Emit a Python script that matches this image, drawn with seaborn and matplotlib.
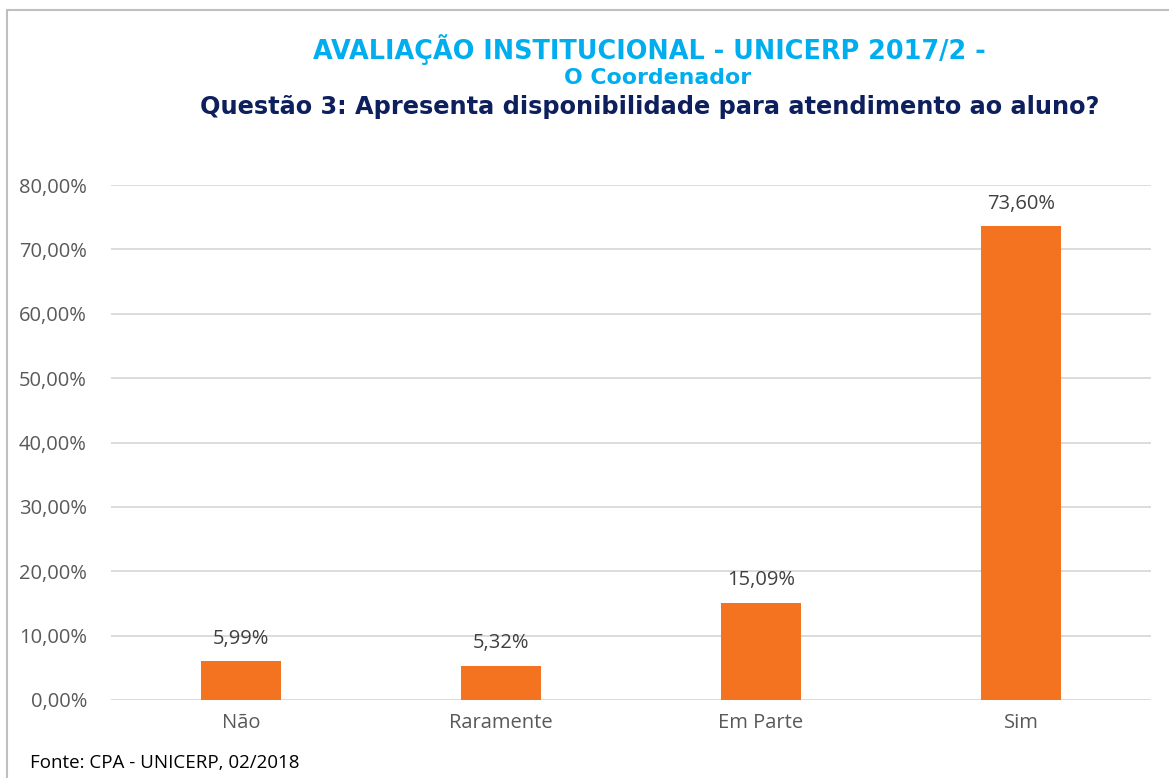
import matplotlib
matplotlib.use("Agg")
import matplotlib.pyplot as plt
import seaborn as sns
import pandas as pd
from matplotlib.lines import Line2D

categories = ["Não", "Raramente", "Em Parte", "Sim"]
values = [5.99, 5.32, 15.09, 73.60]
yticks = [0, 10, 20, 30, 40, 50, 60, 70, 80]

df = pd.DataFrame({"cat": categories, "val": values})

sns.set_theme(style="white")
plt.rcParams['font.family'] = ['Open Sans', 'DejaVu Sans']

fig = plt.figure(figsize=(11.69, 7.78), dpi=100)
ax = fig.add_axes([111/1169, 78/778, 1040/1169, 515/778])

sns.barplot(data=df, x="cat", y="val", color="#F37321", width=0.31,
            saturation=1, ax=ax, zorder=3)
for p in ax.patches:
    p.set_edgecolor("none")

ax.set_ylim(0, 80)
ax.set_xlim(-0.5, 3.5)
ax.set_yticks(yticks)
ax.set_yticklabels([f"{v:.2f}%".replace(".", ",") for v in yticks])
ax.yaxis.grid(True, color="#D9D9D9", linewidth=1.3, zorder=0)
ax.set_axisbelow(True)
for s in ax.spines.values():
    s.set_visible(False)
ax.tick_params(axis="both", length=0, labelsize=14.5, labelcolor="#595959")
ax.tick_params(axis="y", pad=17.3)
ax.tick_params(axis="x", pad=9)
ax.set_xlabel("")
ax.set_ylabel("")

for i, v in enumerate(values):
    ax.annotate(f"{v:.2f}%".replace(".", ","), (i, v), xytext=(0, 9),
                textcoords="offset points", ha="center", va="bottom",
                fontsize=14.5, color="#404040")

title_font = ["DejaVu Sans"]
fig.text(649/1169, 1 - 50/778, "AVALIAÇÃO INSTITUCIONAL - UNICERP 2017/2 -",
         ha="center", va="center", fontsize=18.4, fontweight="bold",
         color="#00AEEF", family=title_font)
fig.text(658/1169, 1 - 78/778, "O Coordenador",
         ha="center", va="center", fontsize=15.8, fontweight="bold",
         color="#00AEEF", family=title_font)
fig.text(650/1169, 1 - 107/778, "Questão 3: Apresenta disponibilidade para atendimento ao aluno?",
         ha="center", va="center", fontsize=17.3, fontweight="bold",
         color="#0D1F5C", family=title_font)

fig.text(30/1169, 1 - 763/778, "Fonte: CPA - UNICERP, 02/2018",
         ha="left", va="center", fontsize=13.5, color="#000000")

# frame
fig.add_artist(Line2D([7/1169, 1.0], [1 - 10/778, 1 - 10/778],
                      transform=fig.transFigure, color="#BFBFBF", linewidth=1.5))
fig.add_artist(Line2D([7/1169, 7/1169], [1 - 10/778, 0],
                      transform=fig.transFigure, color="#BFBFBF", linewidth=1.5))

fig.savefig("out.png", dpi=100)
